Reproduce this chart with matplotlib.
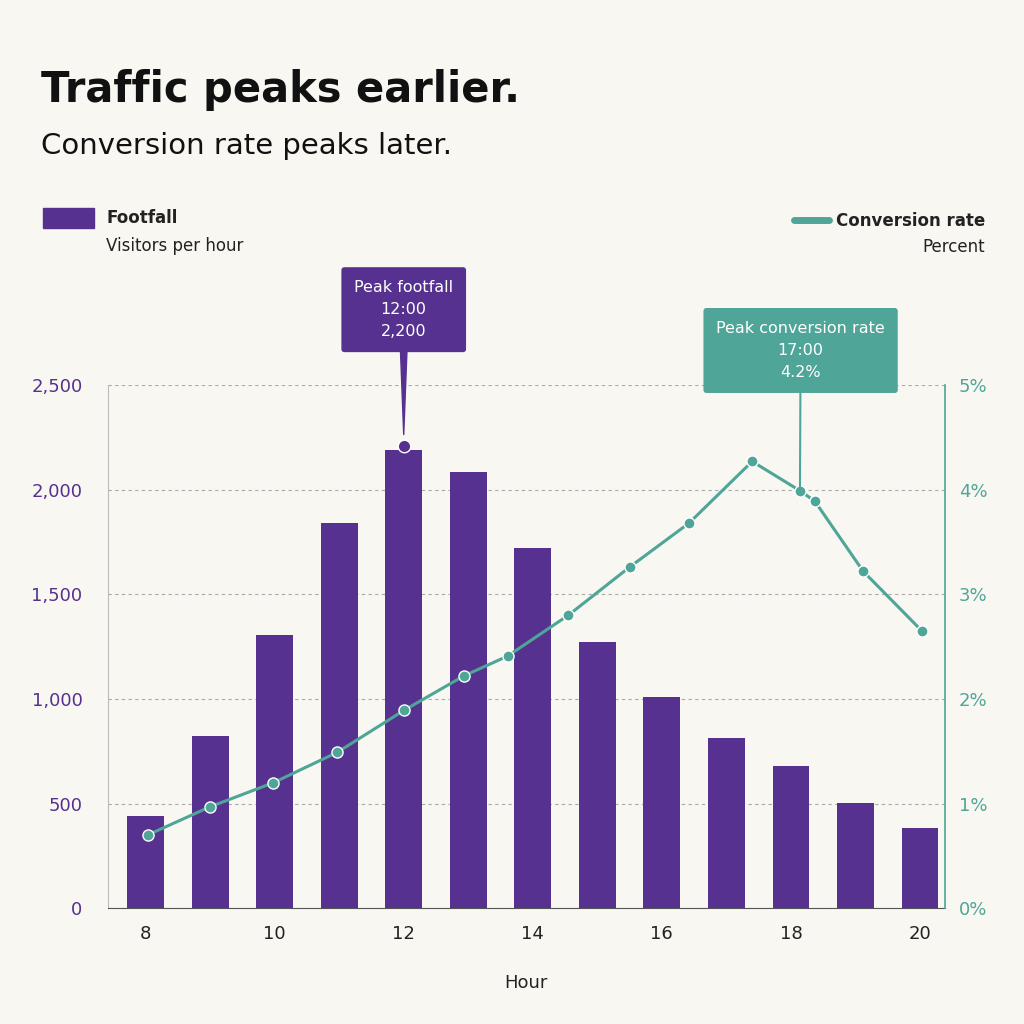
import matplotlib.pyplot as plt
from matplotlib.patches import Rectangle
from matplotlib.lines import Line2D

hours = [8, 9, 10, 11, 12, 13, 14, 15, 16, 17, 18, 19, 20]
footfall = [440, 825, 1305, 1840, 2190, 2085, 1720, 1270, 1010, 815, 680, 505, 385]
conv_hours = [8.03, 9.0, 9.98, 10.97, 12.0, 12.93, 13.61, 14.55, 15.5, 16.42, 17.4, 18.14, 18.37, 19.12, 20.03]
conv_rate = [0.70, 0.97, 1.20, 1.49, 1.89, 2.22, 2.41, 2.80, 3.26, 3.68, 4.27, 3.99, 3.89, 3.22, 2.65]

purple = "#56318f"
teal = "#4fa597"
bg = "#f9f7f2"

fig = plt.figure(figsize=(10.24, 10.24), dpi=100, facecolor=bg)
ax = fig.add_axes([0.105, 0.113, 0.818, 0.511], facecolor=bg)
ax.bar(hours, footfall, width=0.57, color=purple, zorder=2)
ax.set_xlim(7.41, 20.39)
ax.set_ylim(0, 2500)
ax.set_yticks([0, 500, 1000, 1500, 2000, 2500])
ax.set_yticklabels(["0", "500", "1,000", "1,500", "2,000", "2,500"])
ax.set_xticks([8, 10, 12, 14, 16, 18, 20])
ax.tick_params(axis="y", colors=purple, labelsize=13, length=0, pad=18)
ax.tick_params(axis="x", colors="#222222", labelsize=13, length=0, pad=12)
ax.grid(axis="y", linestyle=(0, (3, 3)), color="#aaaaaa", linewidth=0.8, zorder=0)
ax.set_xlabel("Hour", fontsize=13, labelpad=22, color="#222222")
for s in ["top", "right"]:
    ax.spines[s].set_visible(False)
ax.spines["left"].set_color("#bbbbbb")
ax.spines["bottom"].set_color("#555555")

ax2 = ax.twinx()
ax2.plot(conv_hours, conv_rate, color=teal, linewidth=2.2, marker="o",
         markersize=8, markeredgecolor="white", markeredgewidth=1, zorder=3)
ax2.set_ylim(0, 5)
ax2.set_yticks([0, 1, 2, 3, 4, 5])
ax2.set_yticklabels([f"{v}%" for v in range(6)])
ax2.tick_params(axis="y", colors=teal, labelsize=13, length=0, pad=10)
for s in ["top", "left", "bottom"]:
    ax2.spines[s].set_visible(False)
ax2.spines["right"].set_color(teal)
ax2.spines["right"].set_linewidth(1.2)

# annotations
ax.plot([12], [2210], "o", color=purple, markersize=9, markeredgecolor="white", zorder=4)
ax.annotate("Peak footfall\n12:00\n2,200", xy=(12, 2250), xytext=(12, 2860),
            ha="center", va="center", color="white", fontsize=11.5, linespacing=1.6,
            bbox=dict(boxstyle="round,pad=0.8,rounding_size=0.2", fc=purple, ec="none"),
            arrowprops=dict(arrowstyle="wedge,tail_width=0.4", color=purple, shrinkA=0),
            annotation_clip=False)
ax2.annotate("Peak conversion rate\n17:00\n4.2%", xy=(18.14, 3.99), xytext=(18.15, 5.33),
             ha="center", va="center", color="white", fontsize=11.5, linespacing=1.6,
             bbox=dict(boxstyle="round,pad=0.8,rounding_size=0.2", fc=teal, ec="none"),
             arrowprops=dict(arrowstyle="-", color=teal, lw=1.5, shrinkA=0, shrinkB=0),
             annotation_clip=False)

fig.text(0.04, 0.9, "Traffic peaks earlier.", fontsize=30, fontweight="bold", color="#111111")
fig.text(0.04, 0.85, "Conversion rate peaks later.", fontsize=21, color="#111111")

fig.patches.append(Rectangle((0.042, 0.777), 0.05, 0.02, transform=fig.transFigure, color=purple))
fig.text(0.104, 0.787, "Footfall", fontsize=12, fontweight="bold", va="center", color="#222222")
fig.text(0.104, 0.76, "Visitors per hour", fontsize=12, va="center", color="#222222")
fig.lines.append(Line2D([0.775, 0.81], [0.785, 0.785], transform=fig.transFigure,
                        color=teal, linewidth=5, solid_capstyle="round"))
fig.text(0.962, 0.784, "Conversion rate", fontsize=12, fontweight="bold", ha="right", va="center", color="#222222")
fig.text(0.962, 0.759, "Percent", fontsize=12, ha="right", va="center", color="#222222")

fig.savefig("out.png", dpi=100, facecolor=bg)
